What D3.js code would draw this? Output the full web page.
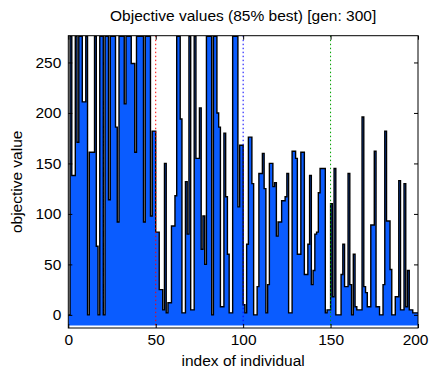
<!DOCTYPE html>
<html>
<head>
<meta charset="utf-8">
<script src="https://cdn.jsdelivr.net/npm/d3@7"></script>
<style>
  body { margin: 0; background: #fff; }
  svg { display: block; }
  text { font-family: "Liberation Sans", Arial, Helvetica, sans-serif; fill: #000; }
</style>
</head>
<body>
<svg id="chart" width="429" height="373"></svg>
<script>
// ---- data ----
const titleText = "Objective values (85% best) [gen: 300]";
const xLabelText = "index of individual";
const yLabelText = "objective value";
const xTickValues = [0, 50, 100, 150, 200];
const yTickValues = [0, 50, 100, 150, 200, 250];
const yLimits = [-13, 276.5];
const fillBase = -10.5;
const subpopBoundaries = [50, 100, 150];
const boundaryColors = ["#ff0000", "#0000ff", "#00a000"];

const subpop1 = [0, 276, 138, 138, 276, 171, 276, 276, 211, 211, 276, 0, 161, 161, 161, 276, 68, 0, 276, 276,
                 0, 276, 276, 114, 276, 276, 276, 186, 92, 276, 276, 276, 209, 276, 276, 276, 249, 249, 161, 276,
                 276, 276, 276, 92, 276, 276, 276, 98, 182, 182];
const subpop2 = [82, 82, 25, 25, 5, 150, 2, 12, 12, 88, 88, 118, 276, 276, 194, 2, 2, 132, 80, 276,
                 5, 5, 276, 155, 155, 205, 65, 98, 50, 276, 276, 276, 0, 276, 276, 200, 186, 8, 8, 180,
                 117, 60, 2, 2, 276, 276, 276, 107, 168, 168];
const subpop3 = [10, 2, 70, 176, 176, 130, 0, 0, 28, 140, 140, 160, 125, 2, 30, 150, 150, 127, 131, 78,
                 92, 92, 113, 113, 117, 140, 2, 2, 162, 162, 155, 60, 60, 161, 161, 40, 40, 70, 138, 30,
                 44, 80, 82, 121, 145, 145, 145, 2, 5, 5];
const subpop4 = [110, 18, 145, 0, 0, 0, 40, 70, 28, 28, 140, 30, 0, 60, 8, 5, 5, 5, 196, 28,
                 22, 8, 8, 89, 89, 162, 8, 8, 0, 0, 30, 182, 93, 93, 45, 0, 0, 18, 18, 133,
                 5, 5, 130, 8, 44, 5, 5, 2, 2, 2];
const objValues = subpop1.concat(subpop2, subpop3, subpop4);

// ---- layout ----
const svg = d3.select("#chart");
const plot = { left: 68.3, right: 418, top: 35.7, bottom: 328 };
const x = d3.scaleLinear().domain([0, objValues.length]).range([plot.left, plot.right]);
const y = d3.scaleLinear().domain(yLimits).range([plot.bottom, plot.top]);

svg.append("defs").append("clipPath").attr("id", "clip")
  .append("rect")
  .attr("x", plot.left).attr("y", plot.top)
  .attr("width", plot.right - plot.left).attr("height", plot.bottom - plot.top);

const g = svg.append("g").attr("clip-path", "url(#clip)");

// stairs points: each individual i spans [i, i+1]
const stairs = objValues.map((v, i) => ({ x: i, v: v }));
stairs.push({ x: objValues.length, v: objValues[objValues.length - 1] });

const area = d3.area()
  .curve(d3.curveStepAfter)
  .x(d => x(d.x))
  .y0(y(fillBase))
  .y1(d => y(Math.min(d.v, yLimits[1] + 2)));

const line = d3.line()
  .curve(d3.curveStepAfter)
  .x(d => x(d.x))
  .y(d => y(Math.min(d.v, yLimits[1] + 2)));

g.append("path").datum(stairs)
  .attr("d", area)
  .attr("fill", "#0a5cff")
  .attr("stroke", "none");

g.append("path").datum(stairs)
  .attr("d", line)
  .attr("fill", "none")
  .attr("stroke", "#000")
  .attr("stroke-width", 1.4);

// subpopulation boundaries
g.selectAll("line.sub").data(subpopBoundaries).enter().append("line")
  .attr("class", "sub")
  .attr("x1", d => x(d)).attr("x2", d => x(d))
  .attr("y1", plot.top).attr("y2", plot.bottom)
  .attr("stroke", (d, i) => boundaryColors[i])
  .attr("stroke-width", 1)
  .attr("stroke-dasharray", "1.5,2.5");

// ---- axes ----
const fs = "15.5px";
const axB = d3.axisBottom(x).tickValues(xTickValues).tickSizeInner(-4).tickSizeOuter(0).tickPadding(6);
const axT = d3.axisTop(x).tickValues(xTickValues).tickSizeInner(-4).tickSizeOuter(0).tickFormat("");
const axL = d3.axisLeft(y).tickValues(yTickValues).tickSizeInner(-4).tickSizeOuter(0).tickPadding(7);
const axR = d3.axisRight(y).tickValues(yTickValues).tickSizeInner(-4).tickSizeOuter(0).tickFormat("");

function styleAxis(sel) {
  sel.select(".domain").remove();
  sel.selectAll(".tick line").attr("stroke", "#000");
  sel.selectAll("text").style("font-size", fs).attr("fill", "#000");
}
const gB = svg.append("g").attr("transform", `translate(0,${plot.bottom})`).call(axB).call(styleAxis);
// keep the last label inside the picture
gB.selectAll(".tick text").filter(d => d === xTickValues[xTickValues.length - 1])
  .attr("text-anchor", "end").attr("x", 428 - plot.right);
svg.append("g").attr("transform", `translate(0,${plot.top})`).call(axT).call(styleAxis);
svg.append("g").attr("transform", `translate(${plot.left},0)`).call(axL).call(styleAxis);
svg.append("g").attr("transform", `translate(${plot.right},0)`).call(axR).call(styleAxis);

// frame
svg.append("rect")
  .attr("x", plot.left).attr("y", plot.top)
  .attr("width", plot.right - plot.left).attr("height", plot.bottom - plot.top)
  .attr("fill", "none").attr("stroke", "#000").attr("stroke-width", 1);

// ---- texts ----
svg.append("text").attr("x", (plot.left + plot.right) / 2).attr("y", 21)
  .attr("text-anchor", "middle").style("font-size", fs).text(titleText);
svg.append("text").attr("x", (plot.left + plot.right) / 2).attr("y", 366)
  .attr("text-anchor", "middle").style("font-size", fs).text(xLabelText);
svg.append("text").attr("transform", `translate(22,${(plot.top + plot.bottom) / 2}) rotate(-90)`)
  .attr("text-anchor", "middle").style("font-size", fs).text(yLabelText);
</script>
</body>
</html>
